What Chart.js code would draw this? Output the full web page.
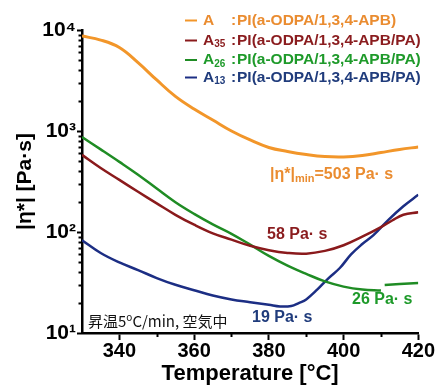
<!DOCTYPE html>
<html>
<head>
<meta charset="utf-8">
<script src="https://cdn.jsdelivr.net/npm/chart.js@4/dist/chart.umd.min.js"></script>
<style>
  html, body { margin: 0; padding: 0; background: #fff; }
  #wrap { width: 436px; height: 385px; }
</style>
</head>
<body>
<div id="wrap"><canvas id="c" width="436" height="385"></canvas></div>
<script>
// ---------------- data ----------------
const seriesNames = ['A', 'A35', 'A26', 'A13'];
const seriesDesc  = ['PI(a-ODPA/1,3,4-APB)', 'PI(a-ODPA/1,3,4-APB/PA)', 'PI(a-ODPA/1,3,4-APB/PA)', 'PI(a-ODPA/1,3,4-APB/PA)'];

const tempA = [330, 335, 340, 345, 350, 355, 360, 365, 370, 375, 380, 385, 390, 395, 400, 405, 410, 415, 420];
const etaA  = [8710, 7950, 6700, 4750, 3200, 2200, 1650, 1285, 1000, 815, 687, 627, 585, 558, 553, 571, 612, 656, 695];

const tempA35 = [330, 335, 340, 345, 350, 355, 360, 365, 370, 375, 380, 385, 390, 395, 400, 405, 410, 413, 416, 420];
const etaA35  = [580, 430, 328, 250, 192, 148, 118, 97, 84, 73, 66, 62, 61, 65, 74, 90, 112, 130, 148, 157];

const tempA26 = [330, 335, 340, 345, 350, 355, 360, 365, 370, 375, 380, 385, 390, 395, 400, 405, 410, 410.4, 411, 415, 420];
const etaA26  = [871, 658, 495, 369, 269, 197, 151, 119, 96, 75, 58, 46.5, 38.5, 32.4, 28.8, 26.9, 26.3, null, 29.9, 30.5, 31.3];

const tempA13 = [330, 335, 340, 345, 350, 355, 360, 365, 370, 375, 380, 383, 386, 388, 390, 393, 396, 399, 402, 405, 408, 412, 416, 420];
const etaA13  = [83, 62, 50, 42, 35, 30, 26.5, 23.5, 21.5, 20.2, 19, 18.3, 18.5, 19.8, 21.5, 27, 35, 44, 60, 76, 93, 132, 180, 234];

const xTicks = [340, 360, 380, 400, 420];
const xMinorTicks = [350, 370, 390, 410];
const yTicks = [10, 100, 1000, 10000];
const yMinorTicks = [20, 30, 40, 50, 60, 70, 80, 90, 200, 300, 400, 500, 600, 700, 800, 900, 2000, 3000, 4000, 5000, 6000, 7000, 8000, 9000];
const minLabels = ['503 Pa· s', '58 Pa· s', '26 Pa· s', '19 Pa· s'];
const conditionText = ['昇温5', 'o', 'C/min, 空気中'];

// ---------------- styles ----------------
const lineColors = ['#F2962A', '#8A1A1C', '#1F8C24', '#1C2E84'];
const textColors = ['#EA8C30', '#8A1C1E', '#1E9A2A', '#203C7C'];
const BOLD = "'Liberation Sans', Arial, sans-serif";

const sup = {'1':'¹','2':'²','3':'³','4':'⁴'};

function pts(t, v) { return t.map((x, i) => ({x: x, y: v[i]})); }

const datasets = [
  {label: seriesNames[0], data: pts(tempA, etaA), borderColor: lineColors[0], borderWidth: 3},
  {label: seriesNames[1], data: pts(tempA35, etaA35), borderColor: lineColors[1], borderWidth: 2.5},
  {label: seriesNames[2], data: pts(tempA26, etaA26), borderColor: lineColors[2], borderWidth: 2.5},
  {label: seriesNames[3], data: pts(tempA13, etaA13), borderColor: lineColors[3], borderWidth: 2.5}
].map(d => Object.assign(d, {pointRadius: 0, fill: false, tension: 0.4, spanGaps: false}));

// ---------------- custom drawing plugin ----------------
const extras = {
  id: 'extras',
  afterDraw(chart) {
    const ctx = chart.ctx;
    const xs = chart.scales.x, ys = chart.scales.y;
    const ca = chart.chartArea;
    ctx.save();
    // minor ticks
    ctx.strokeStyle = '#000';
    ctx.lineWidth = 2;
    yMinorTicks.forEach(v => {
      const py = Math.round(ys.getPixelForValue(v)) + 0.5;
      ctx.beginPath(); ctx.moveTo(ca.left - 3.5, py); ctx.lineTo(ca.left, py); ctx.stroke();
    });
    xMinorTicks.forEach(v => {
      const px = Math.round(xs.getPixelForValue(v)) + 0.5;
      ctx.beginPath(); ctx.moveTo(px, ca.bottom); ctx.lineTo(px, ca.bottom + 4); ctx.stroke();
    });

    // legend
    const rowsY = [20.5, 40.5, 60, 77.5];
    ctx.textBaseline = 'middle';
    seriesNames.forEach((name, i) => {
      const y = rowsY[i];
      ctx.strokeStyle = lineColors[i];
      ctx.lineWidth = 2;
      ctx.beginPath(); ctx.moveTo(185, y); ctx.lineTo(197, y); ctx.stroke();
      ctx.fillStyle = textColors[i];
      ctx.font = 'bold 15.5px ' + BOLD;
      ctx.textAlign = 'left';
      ctx.fillText(name.charAt(0), 203, y);
      const aw = ctx.measureText(name.charAt(0)).width;
      if (name.length > 1) {
        ctx.font = 'bold 10px ' + BOLD;
        ctx.fillText(name.slice(1), 203 + aw, y + 4);
      }
      ctx.font = 'bold 15.5px ' + BOLD;
      ctx.fillText(':', 231, y);
      ctx.fillText(seriesDesc[i], 237, y);
    });

    // annotation: |η*|min = 503 Pa·s
    ctx.font = 'bold 16px ' + BOLD;
    ctx.fillStyle = textColors[0];
    let x = 270, y = 175;
    ctx.fillText('|η*|', x, y); x += ctx.measureText('|η*|').width;
    ctx.font = 'bold 11px ' + BOLD;
    ctx.fillText('min', x, y + 4); x += ctx.measureText('min').width;
    ctx.font = 'bold 16px ' + BOLD;
    ctx.fillText('=' + minLabels[0], x, y);

    ctx.fillStyle = textColors[1]; ctx.fillText(minLabels[1], 267, 235);
    ctx.fillStyle = textColors[2]; ctx.fillText(minLabels[2], 352, 300);
    ctx.fillStyle = textColors[3]; ctx.fillText(minLabels[3], 252, 318);

    // condition text
    ctx.fillStyle = '#111';
    x = 88; y = 321;
    ctx.font = "15px 'Noto Sans CJK JP', sans-serif";
    ctx.fillText(conditionText[0], x, y); x += ctx.measureText(conditionText[0]).width;
    ctx.font = "10px 'Noto Sans CJK JP', sans-serif";
    ctx.fillText(conditionText[1], x, y - 4); x += ctx.measureText(conditionText[1]).width;
    ctx.font = "15px 'Noto Sans CJK JP', sans-serif";
    ctx.fillText(conditionText[2], x, y);
    ctx.restore();
  }
};

new Chart(document.getElementById('c'), {
  type: 'line',
  data: { datasets: datasets },
  options: {
    responsive: false,
    animation: false,
    events: [],
    layout: { padding: { top: 30, right: 16, left: 0, bottom: 0 } },
    plugins: { legend: { display: false }, tooltip: { enabled: false } },
    scales: {
      x: {
        type: 'linear',
        min: 330, max: 420,
        afterFit: s => { s.height = 52; },
        afterBuildTicks: s => { s.ticks = xTicks.map(v => ({value: v})); },
        grid: { drawOnChartArea: false, drawTicks: true, tickLength: 7, tickWidth: 2, tickColor: '#000' },
        border: { display: true, color: '#000', width: 2.5 },
        ticks: { color: '#000', padding: 1, maxRotation: 0, font: { family: BOLD, size: 20, weight: 'bold', lineHeight: 1.0 }, callback: v => String(v) },
        title: { display: true, text: 'Temperature [°C]', color: '#000', padding: { top: 0, bottom: 0 }, font: { family: BOLD, size: 22, weight: 'bold', lineHeight: 1.0 } }
      },
      y: {
        type: 'logarithmic',
        min: 10, max: 10000,
        afterFit: s => { s.width = 82; },
        afterBuildTicks: s => { s.ticks = yTicks.map(v => ({value: v, major: true})); },
        grid: { drawOnChartArea: false, drawTicks: true, tickLength: 5, tickWidth: 2, tickColor: '#000' },
        border: { display: true, color: '#000', width: 2.5 },
        ticks: { color: '#000', padding: 1, font: { family: BOLD, size: 21, weight: 'bold', lineHeight: 1.0 },
          callback: v => '10' + sup[String(Math.round(Math.log10(v)))] },
        title: { display: true, text: '|η*| [Pa·s]', color: '#000', padding: { top: 15, bottom: 0 }, font: { family: BOLD, size: 21, weight: 'bold', lineHeight: 1.0 } }
      }
    }
  },
  plugins: [extras]
});
</script>
</body>
</html>
